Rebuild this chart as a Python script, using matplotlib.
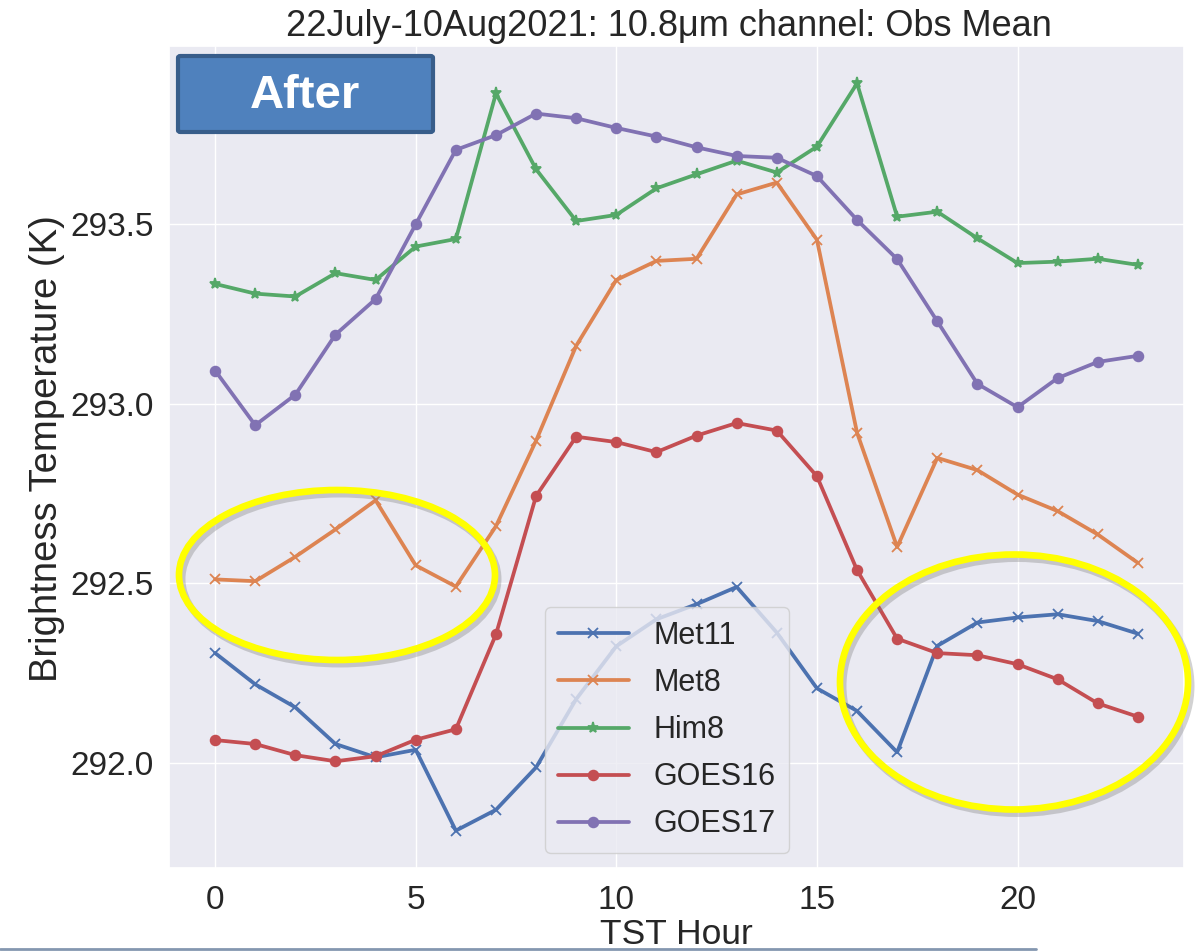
import matplotlib
matplotlib.use("Agg")
import matplotlib.pyplot as plt
from matplotlib.patches import Ellipse, FancyBboxPatch
from matplotlib.lines import Line2D
import seaborn as sns

# Hourly mean brightness temperature (K), 10.8 um channel, by true solar time hour
hours = list(range(24))
met11 = [292.306, 292.219, 292.155, 292.053, 292.016, 292.037, 291.812, 291.870,
         291.988, 292.178, 292.325, 292.400, 292.442, 292.490, 292.363, 292.208,
         292.145, 292.030, 292.326, 292.391, 292.405, 292.414, 292.395, 292.360]
met8 = [292.511, 292.506, 292.574, 292.650, 292.731, 292.550, 292.491, 292.659,
        292.897, 293.161, 293.344, 293.397, 293.403, 293.582, 293.615, 293.456,
        292.919, 292.601, 292.849, 292.815, 292.747, 292.701, 292.636, 292.557]
him8 = [293.333, 293.306, 293.298, 293.363, 293.344, 293.437, 293.458, 293.863,
        293.652, 293.508, 293.525, 293.599, 293.638, 293.676, 293.643, 293.715,
        293.891, 293.520, 293.534, 293.460, 293.391, 293.395, 293.403, 293.386]
goes16 = [292.064, 292.053, 292.022, 292.005, 292.019, 292.065, 292.094, 292.358,
          292.743, 292.908, 292.893, 292.865, 292.911, 292.946, 292.925, 292.798,
          292.537, 292.346, 292.306, 292.300, 292.275, 292.233, 292.166, 292.129]
goes17 = [293.092, 292.940, 293.025, 293.192, 293.291, 293.499, 293.706, 293.747,
          293.807, 293.794, 293.767, 293.743, 293.713, 293.689, 293.684, 293.633,
          293.511, 293.402, 293.229, 293.055, 292.990, 293.071, 293.116, 293.133]

series_names = ["Met11", "Met8", "Him8", "GOES16", "GOES17"]
series_values = [met11, met8, him8, goes16, goes17]
series_markers = ["x", "x", "*", "o", "o"]

title_text = "22July-10Aug2021: 10.8\u03bcm channel: Obs Mean"
x_label = "TST Hour"
y_label = "Brightness Temperature (K)"
badge_text = "After"

sns.set_theme(style="darkgrid")
plt.rcParams["font.family"] = ["Liberation Sans", "DejaVu Sans"]

W, H = 1202, 952
fig = plt.figure(figsize=(W / 100, H / 100), dpi=100)
fig.patch.set_facecolor("white")

ax_l, ax_r, ax_t, ax_b = 169, 1184, 46, 868
ax = fig.add_axes([ax_l / W, 1 - ax_b / H, (ax_r - ax_l) / W, (ax_b - ax_t) / H])

palette = sns.color_palette("deep")
for i, (name, vals, mk) in enumerate(zip(series_names, series_values, series_markers)):
    ms = 7 if mk == "o" else (8 if mk == "*" else 7)
    ax.plot(hours, vals, marker=mk, color=palette[i], lw=2.7, ms=ms,
            mew=1.3, label=name)

ax.set_xticks([0, 5, 10, 15, 20])
ax.set_yticks([292.0, 292.5, 293.0, 293.5])
ax.set_yticklabels(["292.0", "292.5", "293.0", "293.5"])
ax.tick_params(axis="both", labelsize=24, colors="#262626")
ax.tick_params(axis="x", pad=6)
ax.tick_params(axis="y", pad=5)
ax.set_xlabel(x_label, fontsize=25.5, color="#262626", va="top")
ax.xaxis.set_label_coords(0.5, -0.061)
ax.set_ylabel(y_label, fontsize=27.5, color="#262626", va="center")
ax.yaxis.set_label_coords(-0.12, 0.51)
ax.set_title(title_text, fontsize=26, pad=7, color="#262626", x=0.493)

leg = ax.legend(loc="lower left", bbox_to_anchor=(0.370, 0.018), borderaxespad=0,
                fontsize=22, handlelength=2.3, labelspacing=0.56, borderpad=0.45,
                handletextpad=0.8, framealpha=0.8)

# Highlight ellipses (with a faint drop shadow)
def pix_ellipse(cx, cy, w, h, **kw):
    return Ellipse((cx / W, 1 - cy / H), w / W, h / H, transform=fig.transFigure,
                   fill=False, **kw)

for cx, cy, w, h in [(337, 575, 316, 170), (1014, 682, 348, 255)]:
    fig.add_artist(pix_ellipse(cx + 3, cy + 4, w, h, edgecolor="#7f7f7f",
                               lw=5, alpha=0.35, zorder=9))
    fig.add_artist(pix_ellipse(cx, cy, w, h, edgecolor="#FFFF00", lw=4.8, zorder=10))

# "After" badge
badge = FancyBboxPatch((178 / W, 1 - 132 / H), (433 - 178) / W, (132 - 56) / H,
                       boxstyle="round,pad=0,rounding_size=0.002",
                       transform=fig.transFigure, facecolor="#4F81BD",
                       edgecolor="#385D8A", lw=3, zorder=11)
fig.add_artist(badge)
fig.text(305 / W, 1 - 96 / H, badge_text, color="white", fontsize=34,
         fontweight="bold", ha="center", va="center", zorder=12)

# Slide divider line at the bottom
fig.add_artist(Line2D([0, 1036 / W], [1 - 949 / H, 1 - 949 / H],
                      transform=fig.transFigure, color="#8497B0", lw=2, zorder=0))

fig.savefig("out.png", dpi=100, facecolor="white")
